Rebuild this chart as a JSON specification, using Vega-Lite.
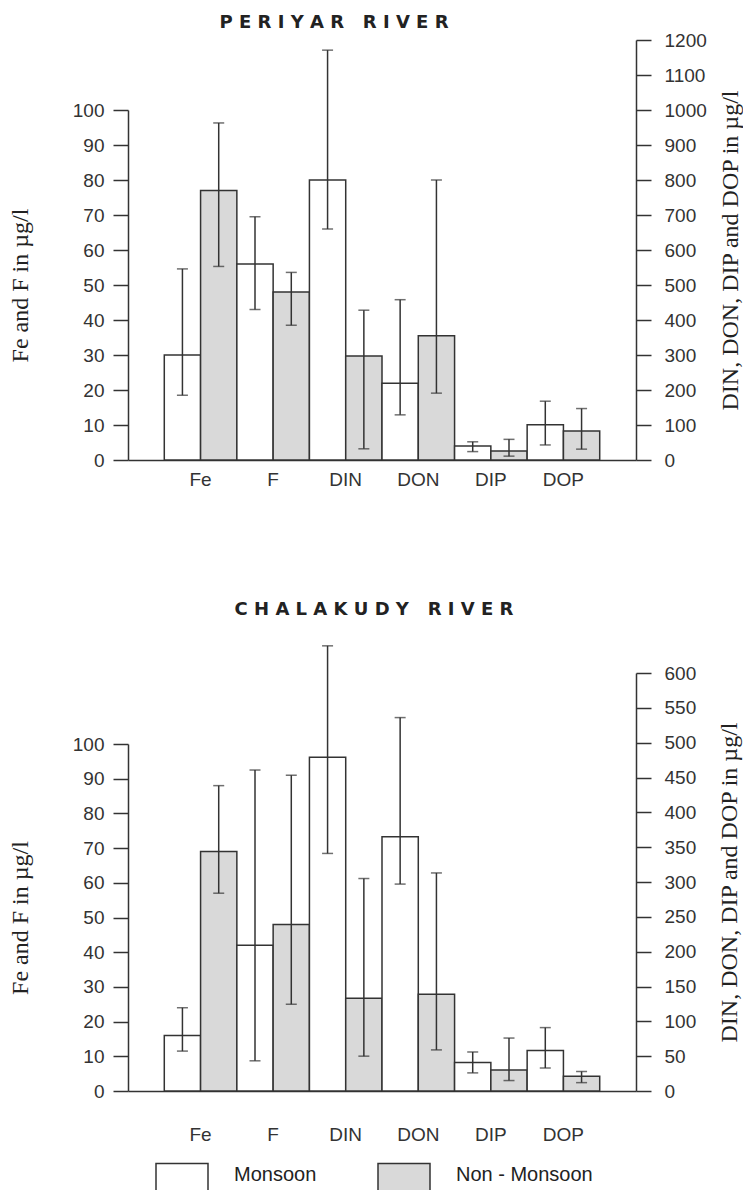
{
  "$schema": "https://vega.github.io/schema/vega-lite/v6.json",
  "padding": {"left": 8, "top": 14, "right": 0, "bottom": 0},
  "background": "#ffffff",
  "config": {
    "view": {"stroke": null},
    "font": "Liberation Sans",
    "axis": {"grid": false, "domainColor": "#333333", "domainWidth": 1.5, "tickColor": "#333333", "tickWidth": 1.5, "labelFont": "Liberation Sans", "labelFontSize": 19, "labelColor": "#333333", "titleFont": "Liberation Serif", "titleFontSize": 24, "titleFontWeight": "normal", "titleColor": "#222222"},
    "concat": {"spacing": 111}
  },
  "datasets": {
    "d": [
      {"river": "Periyar", "param": "Fe", "season": "Monsoon", "value": 30, "lo": 18.5, "hi": 54.6, "side": "left"},
      {"river": "Periyar", "param": "Fe", "season": "Non - Monsoon", "value": 77, "lo": 55.3, "hi": 96.3, "side": "left"},
      {"river": "Periyar", "param": "F", "season": "Monsoon", "value": 56, "lo": 43, "hi": 69.5, "side": "left"},
      {"river": "Periyar", "param": "F", "season": "Non - Monsoon", "value": 48, "lo": 38.5, "hi": 53.6, "side": "left"},
      {"river": "Periyar", "param": "DIN", "season": "Monsoon", "value": 800, "lo": 660, "hi": 1171, "side": "right"},
      {"river": "Periyar", "param": "DIN", "season": "Non - Monsoon", "value": 297, "lo": 32, "hi": 428, "side": "right"},
      {"river": "Periyar", "param": "DON", "season": "Monsoon", "value": 219, "lo": 129, "hi": 458, "side": "right"},
      {"river": "Periyar", "param": "DON", "season": "Non - Monsoon", "value": 355, "lo": 191, "hi": 800, "side": "right"},
      {"river": "Periyar", "param": "DIP", "season": "Monsoon", "value": 40, "lo": 24, "hi": 52, "side": "right"},
      {"river": "Periyar", "param": "DIP", "season": "Non - Monsoon", "value": 26, "lo": 11, "hi": 59, "side": "right"},
      {"river": "Periyar", "param": "DOP", "season": "Monsoon", "value": 101, "lo": 43, "hi": 168, "side": "right"},
      {"river": "Periyar", "param": "DOP", "season": "Non - Monsoon", "value": 83, "lo": 31, "hi": 147, "side": "right"},
      {"river": "Chalakudy", "param": "Fe", "season": "Monsoon", "value": 16, "lo": 11.5, "hi": 24, "side": "left"},
      {"river": "Chalakudy", "param": "Fe", "season": "Non - Monsoon", "value": 69, "lo": 57, "hi": 88, "side": "left"},
      {"river": "Chalakudy", "param": "F", "season": "Monsoon", "value": 42, "lo": 8.7, "hi": 92.5, "side": "left"},
      {"river": "Chalakudy", "param": "F", "season": "Non - Monsoon", "value": 48, "lo": 25, "hi": 91, "side": "left"},
      {"river": "Chalakudy", "param": "DIN", "season": "Monsoon", "value": 479, "lo": 341, "hi": 639, "side": "right"},
      {"river": "Chalakudy", "param": "DIN", "season": "Non - Monsoon", "value": 133, "lo": 50, "hi": 305, "side": "right"},
      {"river": "Chalakudy", "param": "DON", "season": "Monsoon", "value": 365, "lo": 297, "hi": 536, "side": "right"},
      {"river": "Chalakudy", "param": "DON", "season": "Non - Monsoon", "value": 139, "lo": 59, "hi": 313, "side": "right"},
      {"river": "Chalakudy", "param": "DIP", "season": "Monsoon", "value": 41, "lo": 26, "hi": 56, "side": "right"},
      {"river": "Chalakudy", "param": "DIP", "season": "Non - Monsoon", "value": 30, "lo": 15, "hi": 76, "side": "right"},
      {"river": "Chalakudy", "param": "DOP", "season": "Monsoon", "value": 58, "lo": 33, "hi": 91, "side": "right"},
      {"river": "Chalakudy", "param": "DOP", "season": "Non - Monsoon", "value": 21, "lo": 12, "hi": 28, "side": "right"}
    ]
  },
  "data": {"name": "d"},
  "vconcat": [
    {
      "title": {"text": "P E R I Y A R \u00a0 R I V E R", "font": "DejaVu Sans", "fontSize": 18, "fontWeight": "bold", "color": "#222222", "anchor": "middle", "dx": -48, "offset": -1},
      "width": 508,
      "height": 420,
      "encoding": {
        "x": {"field": "param", "type": "nominal", "scale": {"domain": ["Fe", "F", "DIN", "DON", "DIP", "DOP"], "paddingInner": 0, "paddingOuter": 0.5}, "axis": {"title": null, "ticks": false, "labelAngle": 0, "labelPadding": 10, "labelColor": "#333333"}},
        "xOffset": {"field": "season", "type": "nominal", "scale": {"domain": ["Monsoon", "Non - Monsoon"], "paddingInner": 0, "paddingOuter": 0}}
      },
      "layer": [
        {
          "transform": [{"filter": "datum.river == 'Periyar' && datum.side == 'left'"}],
          "layer": [
            {"mark": {"type": "bar", "stroke": "#333333", "strokeWidth": 1.5},
             "encoding": {
               "y": {"field": "value", "type": "quantitative", "scale": {"domain": [0, 100], "range": [420, 70], "nice": false}, "axis": {"orient": "left", "values": [0, 10, 20, 30, 40, 50, 60, 70, 80, 90, 100], "title": "Fe and F in µg/l", "tickSize": 15, "labelPadding": 9, "titlePadding": 40}},
               "fill": {"field": "season", "type": "nominal", "scale": {"domain": ["Monsoon", "Non - Monsoon"], "range": ["#ffffff", "#d9d9d9"]}, "legend": {"title": null, "orient": "none", "legendX": 27, "legendY": 1108, "direction": "horizontal", "symbolType": "M-1,-0.45H1V0.75H-1Z", "symbolSize": 2704, "symbolStrokeColor": "#333333", "symbolStrokeWidth": 1.5, "labelFont": "Liberation Sans", "labelFontSize": 20, "labelColor": "#222222", "labelOffset": 25, "columnPadding": 58}}
             }},
            {"mark": {"type": "rule", "color": "#333333", "strokeWidth": 1.5},
             "encoding": {"y": {"field": "lo", "type": "quantitative", "scale": {"domain": [0, 100], "range": [420, 70], "nice": false}, "axis": {"orient": "left", "values": [0, 10, 20, 30, 40, 50, 60, 70, 80, 90, 100], "title": "Fe and F in µg/l", "tickSize": 15, "labelPadding": 9, "titlePadding": 40}}, "y2": {"field": "hi"}}},
            {"mark": {"type": "tick", "color": "#333333", "thickness": 1.5, "size": 11, "orient": "horizontal"},
             "encoding": {"y": {"field": "lo", "type": "quantitative", "scale": {"domain": [0, 100], "range": [420, 70], "nice": false}, "axis": {"orient": "left", "values": [0, 10, 20, 30, 40, 50, 60, 70, 80, 90, 100], "title": "Fe and F in µg/l", "tickSize": 15, "labelPadding": 9, "titlePadding": 40}}}},
            {"mark": {"type": "tick", "color": "#333333", "thickness": 1.5, "size": 11, "orient": "horizontal"},
             "encoding": {"y": {"field": "hi", "type": "quantitative", "scale": {"domain": [0, 100], "range": [420, 70], "nice": false}, "axis": {"orient": "left", "values": [0, 10, 20, 30, 40, 50, 60, 70, 80, 90, 100], "title": "Fe and F in µg/l", "tickSize": 15, "labelPadding": 9, "titlePadding": 40}}}}
          ]
        },
        {
          "transform": [{"filter": "datum.river == 'Periyar' && datum.side == 'right'"}],
          "layer": [
            {"mark": {"type": "bar", "stroke": "#333333", "strokeWidth": 1.5},
             "encoding": {
               "y": {"field": "value", "type": "quantitative", "scale": {"domain": [0, 1200], "nice": false}, "axis": {"orient": "right", "format": "d", "values": [0, 100, 200, 300, 400, 500, 600, 700, 800, 900, 1000, 1100, 1200], "title": "DIN, DON, DIP and DOP in µg/l", "titleAngle": 270, "titleBaseline": "top", "tickSize": 15, "labelPadding": 13, "titlePadding": 12}},
               "fill": {"field": "season", "type": "nominal", "scale": {"domain": ["Monsoon", "Non - Monsoon"], "range": ["#ffffff", "#d9d9d9"]}, "legend": {"title": null, "orient": "none", "legendX": 27, "legendY": 1108, "direction": "horizontal", "symbolType": "M-1,-0.45H1V0.75H-1Z", "symbolSize": 2704, "symbolStrokeColor": "#333333", "symbolStrokeWidth": 1.5, "labelFont": "Liberation Sans", "labelFontSize": 20, "labelColor": "#222222", "labelOffset": 25, "columnPadding": 58}}
             }},
            {"mark": {"type": "rule", "color": "#333333", "strokeWidth": 1.5},
             "encoding": {"y": {"field": "lo", "type": "quantitative", "scale": {"domain": [0, 1200], "nice": false}, "axis": {"orient": "right", "format": "d", "values": [0, 100, 200, 300, 400, 500, 600, 700, 800, 900, 1000, 1100, 1200], "title": "DIN, DON, DIP and DOP in µg/l", "titleAngle": 270, "titleBaseline": "top", "tickSize": 15, "labelPadding": 13, "titlePadding": 12}}, "y2": {"field": "hi"}}},
            {"mark": {"type": "tick", "color": "#333333", "thickness": 1.5, "size": 11, "orient": "horizontal"},
             "encoding": {"y": {"field": "lo", "type": "quantitative", "scale": {"domain": [0, 1200], "nice": false}, "axis": {"orient": "right", "format": "d", "values": [0, 100, 200, 300, 400, 500, 600, 700, 800, 900, 1000, 1100, 1200], "title": "DIN, DON, DIP and DOP in µg/l", "titleAngle": 270, "titleBaseline": "top", "tickSize": 15, "labelPadding": 13, "titlePadding": 12}}}},
            {"mark": {"type": "tick", "color": "#333333", "thickness": 1.5, "size": 11, "orient": "horizontal"},
             "encoding": {"y": {"field": "hi", "type": "quantitative", "scale": {"domain": [0, 1200], "nice": false}, "axis": {"orient": "right", "format": "d", "values": [0, 100, 200, 300, 400, 500, 600, 700, 800, 900, 1000, 1100, 1200], "title": "DIN, DON, DIP and DOP in µg/l", "titleAngle": 270, "titleBaseline": "top", "tickSize": 15, "labelPadding": 13, "titlePadding": 12}}}}
          ]
        }
      ],
      "resolve": {"scale": {"y": "independent"}, "axis": {"y": "independent"}}
    },
    {
      "title": {"text": "C H A L A K U D Y \u00a0 R I V E R", "font": "DejaVu Sans", "fontSize": 18, "fontWeight": "bold", "color": "#222222", "anchor": "middle", "dx": -8, "offset": 26.5},
      "width": 508,
      "height": 418,
      "encoding": {
        "x": {"field": "param", "type": "nominal", "scale": {"domain": ["Fe", "F", "DIN", "DON", "DIP", "DOP"], "paddingInner": 0, "paddingOuter": 0.5}, "axis": {"title": null, "ticks": false, "labelAngle": 0, "labelPadding": 34, "labelColor": "#333333"}},
        "xOffset": {"field": "season", "type": "nominal", "scale": {"domain": ["Monsoon", "Non - Monsoon"], "paddingInner": 0, "paddingOuter": 0}}
      },
      "layer": [
        {
          "transform": [{"filter": "datum.river == 'Chalakudy' && datum.side == 'left'"}],
          "layer": [
            {"mark": {"type": "bar", "stroke": "#333333", "strokeWidth": 1.5},
             "encoding": {
               "y": {"field": "value", "type": "quantitative", "scale": {"domain": [0, 100], "range": [418, 71], "nice": false}, "axis": {"orient": "left", "values": [0, 10, 20, 30, 40, 50, 60, 70, 80, 90, 100], "title": "Fe and F in µg/l", "tickSize": 15, "labelPadding": 9, "titlePadding": 40}},
               "fill": {"field": "season", "type": "nominal", "scale": {"domain": ["Monsoon", "Non - Monsoon"], "range": ["#ffffff", "#d9d9d9"]}, "legend": {"title": null, "orient": "none", "legendX": 27, "legendY": 1108, "direction": "horizontal", "symbolType": "M-1,-0.45H1V0.75H-1Z", "symbolSize": 2704, "symbolStrokeColor": "#333333", "symbolStrokeWidth": 1.5, "labelFont": "Liberation Sans", "labelFontSize": 20, "labelColor": "#222222", "labelOffset": 25, "columnPadding": 58}}
             }},
            {"mark": {"type": "rule", "color": "#333333", "strokeWidth": 1.5},
             "encoding": {"y": {"field": "lo", "type": "quantitative", "scale": {"domain": [0, 100], "range": [418, 71], "nice": false}, "axis": {"orient": "left", "values": [0, 10, 20, 30, 40, 50, 60, 70, 80, 90, 100], "title": "Fe and F in µg/l", "tickSize": 15, "labelPadding": 9, "titlePadding": 40}}, "y2": {"field": "hi"}}},
            {"mark": {"type": "tick", "color": "#333333", "thickness": 1.5, "size": 11, "orient": "horizontal"},
             "encoding": {"y": {"field": "lo", "type": "quantitative", "scale": {"domain": [0, 100], "range": [418, 71], "nice": false}, "axis": {"orient": "left", "values": [0, 10, 20, 30, 40, 50, 60, 70, 80, 90, 100], "title": "Fe and F in µg/l", "tickSize": 15, "labelPadding": 9, "titlePadding": 40}}}},
            {"mark": {"type": "tick", "color": "#333333", "thickness": 1.5, "size": 11, "orient": "horizontal"},
             "encoding": {"y": {"field": "hi", "type": "quantitative", "scale": {"domain": [0, 100], "range": [418, 71], "nice": false}, "axis": {"orient": "left", "values": [0, 10, 20, 30, 40, 50, 60, 70, 80, 90, 100], "title": "Fe and F in µg/l", "tickSize": 15, "labelPadding": 9, "titlePadding": 40}}}}
          ]
        },
        {
          "transform": [{"filter": "datum.river == 'Chalakudy' && datum.side == 'right'"}],
          "layer": [
            {"mark": {"type": "bar", "stroke": "#333333", "strokeWidth": 1.5},
             "encoding": {
               "y": {"field": "value", "type": "quantitative", "scale": {"domain": [0, 600], "nice": false}, "axis": {"orient": "right", "format": "d", "values": [0, 50, 100, 150, 200, 250, 300, 350, 400, 450, 500, 550, 600], "title": "DIN, DON, DIP and DOP in µg/l", "titleAngle": 270, "titleBaseline": "top", "tickSize": 15, "labelPadding": 13, "titlePadding": 22}},
               "fill": {"field": "season", "type": "nominal", "scale": {"domain": ["Monsoon", "Non - Monsoon"], "range": ["#ffffff", "#d9d9d9"]}, "legend": {"title": null, "orient": "none", "legendX": 27, "legendY": 1108, "direction": "horizontal", "symbolType": "M-1,-0.45H1V0.75H-1Z", "symbolSize": 2704, "symbolStrokeColor": "#333333", "symbolStrokeWidth": 1.5, "labelFont": "Liberation Sans", "labelFontSize": 20, "labelColor": "#222222", "labelOffset": 25, "columnPadding": 58}}
             }},
            {"mark": {"type": "rule", "color": "#333333", "strokeWidth": 1.5},
             "encoding": {"y": {"field": "lo", "type": "quantitative", "scale": {"domain": [0, 600], "nice": false}, "axis": {"orient": "right", "format": "d", "values": [0, 50, 100, 150, 200, 250, 300, 350, 400, 450, 500, 550, 600], "title": "DIN, DON, DIP and DOP in µg/l", "titleAngle": 270, "titleBaseline": "top", "tickSize": 15, "labelPadding": 13, "titlePadding": 22}}, "y2": {"field": "hi"}}},
            {"mark": {"type": "tick", "color": "#333333", "thickness": 1.5, "size": 11, "orient": "horizontal"},
             "encoding": {"y": {"field": "lo", "type": "quantitative", "scale": {"domain": [0, 600], "nice": false}, "axis": {"orient": "right", "format": "d", "values": [0, 50, 100, 150, 200, 250, 300, 350, 400, 450, 500, 550, 600], "title": "DIN, DON, DIP and DOP in µg/l", "titleAngle": 270, "titleBaseline": "top", "tickSize": 15, "labelPadding": 13, "titlePadding": 22}}}},
            {"mark": {"type": "tick", "color": "#333333", "thickness": 1.5, "size": 11, "orient": "horizontal"},
             "encoding": {"y": {"field": "hi", "type": "quantitative", "scale": {"domain": [0, 600], "nice": false}, "axis": {"orient": "right", "format": "d", "values": [0, 50, 100, 150, 200, 250, 300, 350, 400, 450, 500, 550, 600], "title": "DIN, DON, DIP and DOP in µg/l", "titleAngle": 270, "titleBaseline": "top", "tickSize": 15, "labelPadding": 13, "titlePadding": 22}}}}
          ]
        }
      ],
      "resolve": {"scale": {"y": "independent"}, "axis": {"y": "independent"}}
    }
  ]
}
